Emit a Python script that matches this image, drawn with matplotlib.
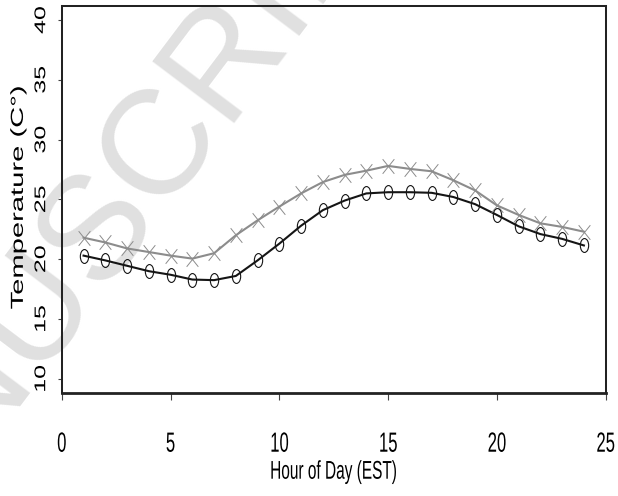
import matplotlib
matplotlib.use("Agg")
import matplotlib.pyplot as plt
from matplotlib.patheffects import AbstractPathEffect
from matplotlib.path import Path
from matplotlib.transforms import Affine2D

hours = list(range(1, 25))
temp_grey = [21.8, 21.4, 20.9, 20.6, 20.3, 20.05, 20.5, 22.0, 23.25, 24.4,
             25.5, 26.45, 27.05, 27.4, 27.8, 27.55, 27.35, 26.6, 25.75, 24.5,
             23.7, 23.0, 22.7, 22.3]
temp_black = [20.3, 19.9, 19.45, 19.0, 18.7, 18.3, 18.25, 18.6, 19.9, 21.3,
              22.8, 24.1, 24.9, 25.5, 25.6, 25.6, 25.55, 25.2, 24.6, 23.7,
              22.75, 22.1, 21.7, 21.15]
x_ticks = [0, 5, 10, 15, 20, 25]
y_ticks = [10, 15, 20, 25, 30, 35, 40]

plt.rcParams['font.family'] = ['Liberation Sans', 'DejaVu Sans']


class Squeeze(AbstractPathEffect):
    # squeeze text horizontally on screen (the original figure was scaled that way)
    def __init__(self, sx):
        super().__init__()
        self.sx = sx

    def draw_path(self, renderer, gc, tpath, affine, rgbFace=None):
        ext = tpath.get_extents(affine)
        cx = (ext.x0 + ext.x1) / 2
        t = affine.frozen() + Affine2D().translate(-cx, 0).scale(self.sx, 1).translate(cx, 0)
        renderer.draw_path(gc, tpath, t, rgbFace)


# narrow ellipse and narrow cross markers
ellipse = Path.unit_circle().transformed(Affine2D().scale(0.6, 1))
cross = Path([(-0.4, -0.5), (0.4, 0.5), (-0.4, 0.5), (0.4, -0.5)],
             [Path.MOVETO, Path.LINETO, Path.MOVETO, Path.LINETO])

fig = plt.figure(figsize=(6.18, 4.96), dpi=100)
fig.text(0.162, 0.556, 'MANUSCRIPT', rotation=53, rotation_mode='anchor',
         fontsize=107, color='#e0e0e0', ha='center', va='center', zorder=-1)

ax = fig.add_axes([0.100, 0.208, 0.880, 0.780])
ax.patch.set_alpha(0)

ax.plot(hours, temp_grey, color='#8c8c8c', lw=1.5, zorder=3)
ax.plot(hours, temp_grey, ls='none', marker=cross, ms=10.5, mec='#8c8c8c', mew=0.7, zorder=4)
ax.plot(hours, temp_black, color='#151515', lw=1.5, zorder=3)
ax.plot(hours, temp_black, ls='none', marker=ellipse, ms=10, mfc='none', mec='#151515', mew=0.8, zorder=4)

ax.set_xlim(0, 25)
ax.set_ylim(8.83, 41.17)
ax.set_xticks(x_ticks)
ax.set_yticks(y_ticks)

for side in ['left', 'top', 'right']:
    ax.spines[side].set_linewidth(1.45)
    ax.spines[side].set_color('#222222')
ax.spines['bottom'].set_linewidth(2.0)
ax.spines['bottom'].set_color('#222222')

ax.tick_params(axis='y', direction='out', length=3, width=0.8, pad=3,
               labelsize=18, labelrotation=90, color='#444444')
ax.tick_params(axis='x', direction='out', length=5, width=0.8, pad=23,
               labelsize=20, color='#444444')

for lab in ax.get_yticklabels():
    lab.set_va('center')
    lab.set_path_effects([Squeeze(0.62)])
for lab in ax.get_xticklabels():
    lab.set_path_effects([Squeeze(0.6)])

ax.set_xlabel('Hour of Day (EST)', fontsize=18.5, va='baseline')
ax.xaxis.set_label_coords(0.5, -0.222)
ax.xaxis.label.set_path_effects([Squeeze(0.6)])

ax.set_ylabel('Temperature (C\u00b0)', fontsize=21, va='baseline')
ax.yaxis.set_label_coords(-0.066, 0.505)
ax.yaxis.label.set_path_effects([Squeeze(0.6)])

fig.savefig('out.png', dpi=100)
